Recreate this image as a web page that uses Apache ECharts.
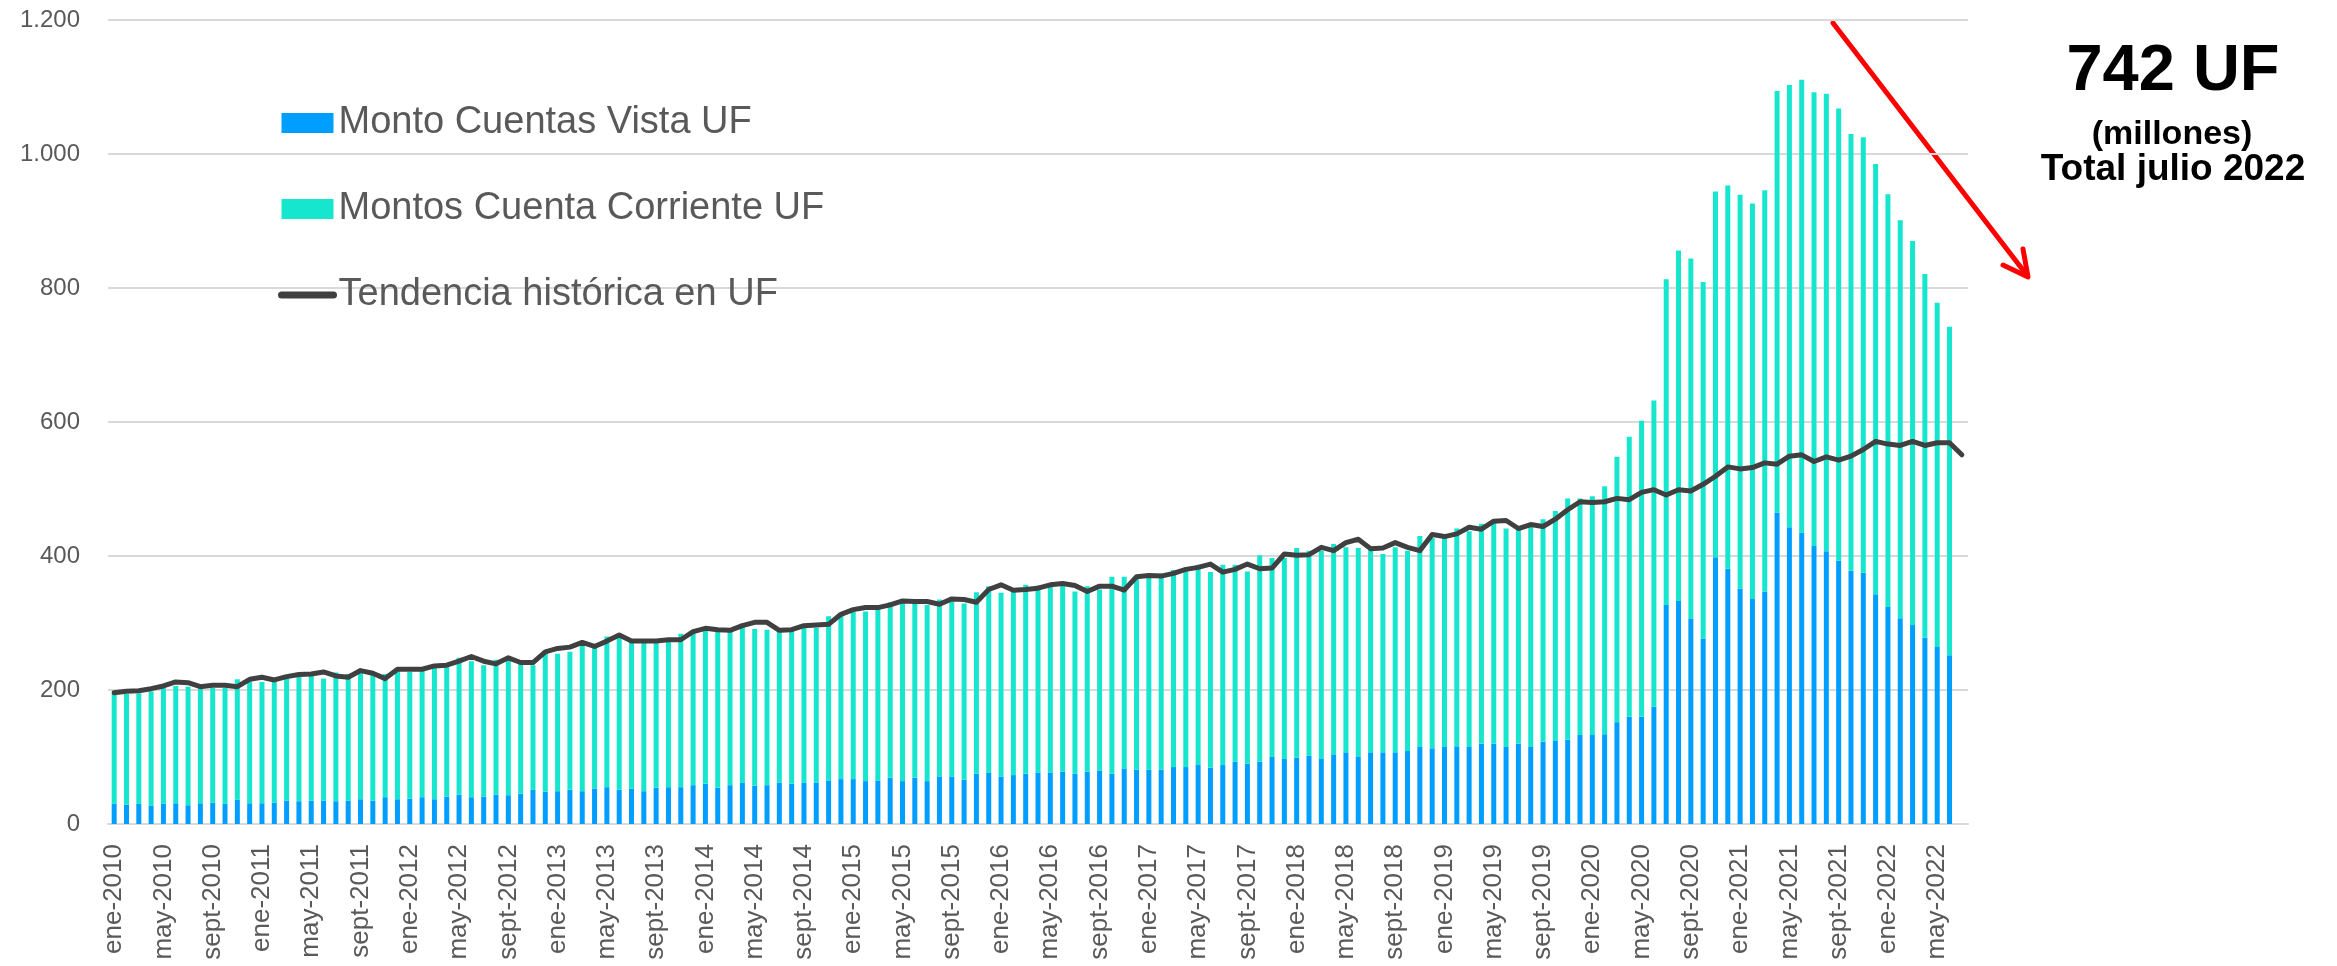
<!DOCTYPE html>
<html><head><meta charset="utf-8">
<script src="https://cdn.jsdelivr.net/npm/echarts/dist/echarts.min.js"></script>
<style>html,body{margin:0;padding:0;background:#fff}#c{width:2337px;height:966px}</style>
</head><body><div id="c"></div>
<script>
const monthNames = ['ene','feb','mar','abr','may','jun','jul','ago','sept','oct','nov','dic'];
const firstYear = 2010, lastYear = 2022, lastYearMonths = 7;
const categories = [];
for (let y = firstYear; y <= lastYear; y++) {
  for (let m = 0; m < 12; m++) {
    if (y === lastYear && m >= lastYearMonths) break;
    categories.push(monthNames[m] + '-' + y);
  }
}
const yTickLabels = ['0', '200', '400', '600', '800', '1.000', '1.200'];

const vista = [
  30,29,30,27,30,31,28,31,32,30, 36,31,31,32,35,34,35,35,34,35,
  37,35,40,37,38,40,37,41,44,40, 41,44,43,45,51,48,49,51,49,53,
  55,51,53,49,54,55,55,58,60,54, 58,62,57,58,62,60,62,62,65,67,
  67,64,65,69,64,69,64,71,71,66, 75,77,71,73,75,77,77,78,75,78,
  80,75,83,81,81,81,85,85,88,84, 88,93,90,93,100,97,99,102,97,104,
  107,101,107,107,107,109,115,113,115,116, 115,120,120,115,120,115,123,124,126,133,
  133,134,152,160,160,175,327,333,306,277, 398,381,351,336,347,465,443,435,415,407,
  393,378,375,343,324,307,297,278,264,252
];
const corriente = [
  165,165,165,171,179,175,177,172,171,173, 180,182,181,184,184,186,188,182,192,189,
  193,191,184,192,189,190,196,193,204,203, 196,201,207,195,186,209,205,206,220,212,
  225,228,220,222,218,217,229,229,230,233, 231,237,234,232,227,230,231,231,245,248,
  250,253,256,262,268,261,263,264,261,263, 271,278,274,276,282,279,278,278,272,277,
  270,294,286,286,286,293,294,296,299,292, 299,294,287,308,297,300,313,306,311,314,
  306,311,302,296,306,299,315,314,312,325, 322,328,333,326,324,329,332,343,360,353,
  356,370,396,418,442,457,486,523,538,532, 546,572,588,590,599,629,660,676,677,683,
  675,652,650,642,616,594,573,543,514,490
];
const tendencia = [
  196,198,199,202,206,212,211,205,207,207, 205,216,219,215,220,223,224,227,221,219,
  229,225,217,231,231,231,236,237,243,250, 243,239,248,241,241,257,262,264,271,265,
  273,282,273,273,273,275,275,287,292,290, 289,296,301,301,289,290,296,297,298,313,
  320,323,323,327,333,332,332,328,336,335, 331,350,357,349,350,352,357,359,356,347,
  355,355,349,369,371,370,374,380,383,388, 376,380,388,381,382,403,401,402,413,408,
  420,425,411,412,420,413,408,432,429,433, 443,440,452,453,441,447,444,455,469,481,
  480,481,486,484,495,499,491,499,497,507, 519,533,530,532,539,537,549,551,541,548,
  543,549,559,571,567,565,571,565,569,569, 551
];

const FONT = "'Liberation Sans', Arial, Helvetica, sans-serif";
const lastTotal = Math.round(vista[vista.length - 1] + corriente[corriente.length - 1]);

const chart = echarts.init(document.getElementById('c'));
chart.setOption({
  animation: false,
  backgroundColor: '#ffffff',
  textStyle: { fontFamily: FONT },
  grid: { left: 108, right: 369, top: 20, bottom: 142, containLabel: false },
  legend: {
    orient: 'vertical', left: 273, top: 98, padding: 5,
    itemWidth: 52, itemHeight: 20, itemGap: 46,
    textStyle: { fontSize: 38, color: '#595959', fontFamily: FONT, lineHeight: 40 },
    data: [
      { name: 'Monto Cuentas Vista UF', icon: 'rect' },
      { name: 'Montos Cuenta Corriente UF', icon: 'rect' },
      { name: 'Tendencia histórica en UF',
        lineStyle: { width: 7, cap: 'round', color: '#404040' },
        itemStyle: { opacity: 0 } }
    ]
  },
  xAxis: {
    type: 'category', data: categories, boundaryGap: true,
    axisLine: { lineStyle: { color: '#d9d9d9', width: 2 } },
    axisTick: { interval: 3, length: 8, lineStyle: { color: '#d9d9d9', width: 2 } },
    axisLabel: { interval: 3, rotate: 90, margin: 20, fontSize: 26, color: '#595959', fontFamily: FONT }
  },
  yAxis: {
    type: 'value', min: 0, max: 1200, interval: 200,
    axisLine: { show: false }, axisTick: { show: false },
    splitLine: { lineStyle: { color: '#d9d9d9', width: 2 } },
    axisLabel: { margin: 28, fontSize: 24, color: '#595959', fontFamily: FONT,
      formatter: v => yTickLabels[Math.round(v / 200)] }
  },
  series: [
    { name: 'Monto Cuentas Vista UF', type: 'bar', stack: 'total', data: vista,
      barWidth: 5, itemStyle: { color: '#009FFF' }, z: 2 },
    { name: 'Montos Cuenta Corriente UF', type: 'bar', stack: 'total', data: corriente,
      barWidth: 5, itemStyle: { color: '#17E6CF' }, z: 2 },
    { name: 'Tendencia histórica en UF', type: 'line', data: tendencia, symbol: 'none',
      lineStyle: { color: '#404040', width: 5, join: 'round', cap: 'round' },
      itemStyle: { color: '#404040' }, z: 5 }
  ],
  graphic: [
    { type: 'line', shape: { x1: 1833, y1: 23, x2: 2026, y2: 274 },
      style: { stroke: '#FF0000', lineWidth: 5, lineCap: 'round' } },
    { type: 'polyline', shape: { points: [[2003, 265], [2028, 277], [2023, 249]] },
      style: { stroke: '#FF0000', lineWidth: 5, lineCap: 'round', lineJoin: 'round', fill: null } },
    { type: 'text', x: 2173, y: 72,
      style: { text: lastTotal + ' UF', font: 'bold 65px ' + FONT, fill: '#000', align: 'center', verticalAlign: 'middle' } },
    { type: 'text', x: 2172, y: 135,
      style: { text: '(millones)', font: 'bold 34px ' + FONT, fill: '#000', align: 'center', verticalAlign: 'middle' } },
    { type: 'text', x: 2173, y: 170,
      style: { text: 'Total julio 2022', font: 'bold 37px ' + FONT, fill: '#000', align: 'center', verticalAlign: 'middle' } }
  ]
});
</script>
</body></html>
